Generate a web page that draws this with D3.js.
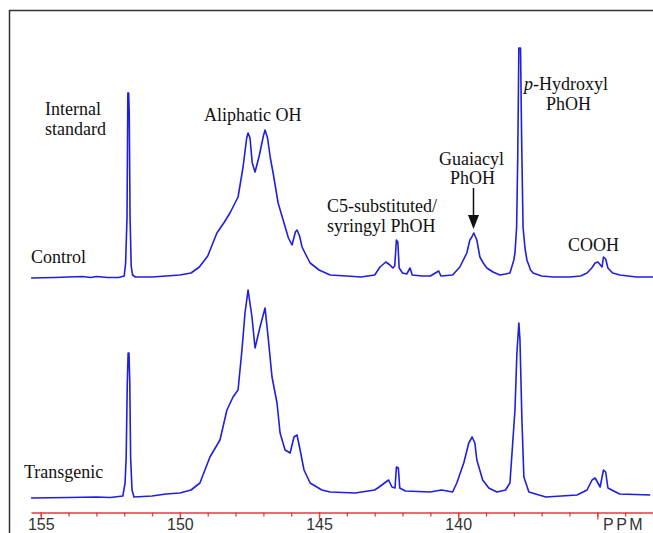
<!DOCTYPE html>
<html>
<head>
<meta charset="utf-8">
<script src="https://cdn.jsdelivr.net/npm/d3@7"></script>
<style>
  body { margin: 0; background: #fff; }
  svg { display: block; }
  .note { font-family: "Liberation Serif", "Times New Roman", serif; font-size: 18px; fill: #111; }
  .axis text { font-family: "Liberation Sans", Arial, sans-serif; font-size: 16px; fill: #333; }
</style>
</head>
<body>
<svg id="chart" width="653" height="533"></svg>
<script>
// 31P NMR spectra, [ppm, intensity (a.u.)]
var controlSpectrum = [
  [155.35, 0], [154.5, 0.5], [154.0, 1], [153.5, 1.5], [153.2, 0.5], [153.0, 1.5], [152.6, 0.5],
  [152.2, 0.5], [152.0, 2], [151.95, 15], [151.9, 60], [151.87, 185], [151.84, 185], [151.82, 165],
  [151.79, 60], [151.75, 12], [151.7, 3], [151.6, 1], [151.0, 1], [150.5, 2], [150.0, 3], [149.6, 5],
  [149.3, 11], [149.0, 22], [148.67, 45], [148.4, 56], [148.2, 65], [147.91, 81], [147.73, 111],
  [147.6, 140], [147.55, 145], [147.48, 140], [147.4, 115], [147.3, 106], [147.15, 122], [147.0, 142],
  [146.94, 148], [146.85, 140], [146.75, 120], [146.65, 105], [146.47, 75], [146.29, 58], [146.1, 40],
  [145.97, 33], [145.85, 46], [145.79, 48], [145.7, 42], [145.61, 31], [145.45, 22], [145.32, 15],
  [145.0, 8], [144.6, 3], [144.0, 2], [143.5, 1], [143.0, 3], [142.81, 11], [142.6, 16], [142.45, 13],
  [142.35, 10], [142.28, 12], [142.22, 38], [142.17, 36], [142.12, 10], [142.0, 5], [141.85, 4],
  [141.73, 10], [141.65, 3], [141.3, 2], [141.0, 2], [140.7, 7], [140.62, 2], [140.2, 3], [139.94, 11],
  [139.69, 25], [139.58, 38], [139.51, 41], [139.44, 45], [139.33, 38], [139.22, 21], [139.1, 15],
  [138.97, 10], [138.75, 6], [138.5, 3], [138.3, 4], [138.14, 5], [138.0, 18], [137.96, 25],
  [137.9, 51], [137.86, 121], [137.82, 230], [137.76, 230], [137.72, 138], [137.67, 51], [137.6, 30],
  [137.53, 18], [137.4, 8], [137.31, 5], [137.0, 2], [136.59, 1], [136.0, 1], [135.6, 2], [135.37, 5],
  [135.2, 10], [135.08, 15], [134.98, 16], [134.83, 11], [134.78, 21], [134.7, 19], [134.62, 10],
  [134.45, 5], [134.19, 3], [133.6, 1], [133.0, 1]
];

var transgenicSpectrum = [
  [155.35, 0], [154.0, 0.5], [153.0, 1], [152.5, 0.5], [152.05, 2], [151.97, 15], [151.93, 41],
  [151.89, 115], [151.86, 145], [151.83, 145], [151.8, 115], [151.77, 40], [151.72, 8], [151.65, 1],
  [151.0, 2], [150.5, 4], [150.0, 5], [149.6, 8], [149.28, 15], [148.92, 41], [148.56, 58],
  [148.31, 88], [148.09, 101], [147.91, 108], [147.77, 148], [147.66, 185], [147.55, 208],
  [147.41, 181], [147.3, 150], [147.12, 171], [146.94, 190], [146.83, 161], [146.69, 121],
  [146.51, 95], [146.4, 65], [146.22, 48], [146.04, 45], [145.9, 61], [145.79, 63], [145.68, 48],
  [145.54, 28], [145.32, 15], [144.9, 8], [144.6, 6], [143.7, 5], [143.0, 8], [142.84, 11],
  [142.6, 16], [142.5, 18], [142.38, 11], [142.27, 10], [142.22, 31], [142.15, 30], [142.1, 10],
  [141.9, 7], [141.0, 6], [140.6, 8], [140.2, 6], [140.05, 15], [139.8, 35], [139.62, 55], [139.5, 61],
  [139.4, 55], [139.33, 38], [139.12, 18], [138.9, 10], [138.61, 6], [138.3, 8], [138.14, 15],
  [137.96, 88], [137.89, 145], [137.82, 175], [137.78, 158], [137.71, 78], [137.64, 21], [137.46, 6],
  [136.85, 1], [135.73, 3], [135.37, 8], [135.19, 18], [135.08, 20], [134.9, 11], [134.78, 28],
  [134.7, 26], [134.62, 10], [134.2, 4], [133.1, 3]
];

var majorTicks = [155, 150, 145, 140, 135];
var minorTicks = d3.range(133, 156);
var axisUnit = "PPM";

var svg = d3.select("#chart");

var x = d3.scaleLinear().domain([155.35, 133.0]).range([31, 653]);
// two stacked traces share the same intensity span
var yControl = d3.scaleLinear().domain([0, 230]).range([278, 48]);
var yTrans = d3.scaleLinear().domain([0, 230]).range([498, 268]);

// frame
svg.append("path")
  .attr("d", "M9.5,533V10.5H653")
  .attr("fill", "none")
  .attr("stroke", "#333")
  .attr("stroke-width", 1.5);

var line = function(yScale) {
  return d3.line()
    .x(function(d) { return x(d[0]); })
    .y(function(d) { return yScale(d[1]); });
};

svg.append("path")
  .datum(controlSpectrum)
  .attr("d", line(yControl))
  .attr("fill", "none")
  .attr("stroke", "#1f1fe0")
  .attr("stroke-width", 1.6)
  .attr("stroke-linejoin", "round");

svg.append("path")
  .datum(transgenicSpectrum)
  .attr("d", line(yTrans))
  .attr("fill", "none")
  .attr("stroke", "#1f1fe0")
  .attr("stroke-width", 1.6)
  .attr("stroke-linejoin", "round");

// ppm axis
svg.append("g")
  .attr("class", "axis")
  .attr("transform", "translate(0,512.5)")
  .call(d3.axisBottom(x).tickValues(minorTicks).tickSize(4).tickSizeOuter(0).tickFormat(""))
  .call(function(g) {
    g.select(".domain").attr("stroke", "#e83a3a").attr("stroke-width", 1.3);
    g.selectAll(".tick line").attr("stroke", "#e83a3a").attr("stroke-width", 1.3);
  });

svg.append("g")
  .attr("class", "axis")
  .attr("transform", "translate(0,512.5)")
  .call(d3.axisBottom(x).tickValues(majorTicks).tickSize(7).tickPadding(0)
    .tickFormat(function(d) { return d === 135 ? "" : d; }))
  .call(function(g) {
    g.select(".domain").remove();
    g.selectAll(".tick line").attr("stroke", "#e83a3a").attr("stroke-width", 1.3);
    g.selectAll(".tick text").attr("dy", null).attr("y", 17);
  });

svg.append("text")
  .attr("x", 603).attr("y", 529.5)
  .style("font-family", "'Liberation Sans', Arial, sans-serif")
  .style("font-size", "16px")
  .style("letter-spacing", "2.5px")
  .attr("fill", "#333")
  .text(axisUnit);

// annotations
var notes = [
  { x: 45, y: 114.5, lines: ["Internal", "standard"] },
  { x: 31, y: 263, lines: ["Control"] },
  { x: 204, y: 120.5, lines: ["Aliphatic OH"] },
  { x: 24, y: 478, lines: ["Transgenic"] },
  { x: 327, y: 211.5, lines: ["C5-substituted/", "syringyl PhOH"] },
  { x: 439, y: 165, lines: ["Guaiacyl"] },
  { x: 450, y: 183.5, lines: ["PhOH"] },
  { x: 546, y: 110, lines: ["PhOH"] },
  { x: 568, y: 250.5, lines: ["COOH"] }
];

notes.forEach(function(n) {
  var t = svg.append("text").attr("class", "note").attr("x", n.x).attr("y", n.y);
  n.lines.forEach(function(s, i) {
    t.append("tspan").attr("x", n.x).attr("dy", i ? 20.5 : 0).text(s);
  });
});

var ph = svg.append("text").attr("class", "note").attr("x", 524).attr("y", 90);
ph.append("tspan").style("font-style", "italic").text("p");
ph.append("tspan").text("-Hydroxyl");

// arrow to guaiacyl peak
var ax = x(139.45);
svg.append("line")
  .attr("x1", ax).attr("x2", ax)
  .attr("y1", 188).attr("y2", 218)
  .attr("stroke", "#111").attr("stroke-width", 1.5);
svg.append("path")
  .attr("d", "M" + (ax - 5.5) + ",215L" + (ax + 5.5) + ",215L" + ax + ",229Z")
  .attr("fill", "#111");
</script>
</body>
</html>
